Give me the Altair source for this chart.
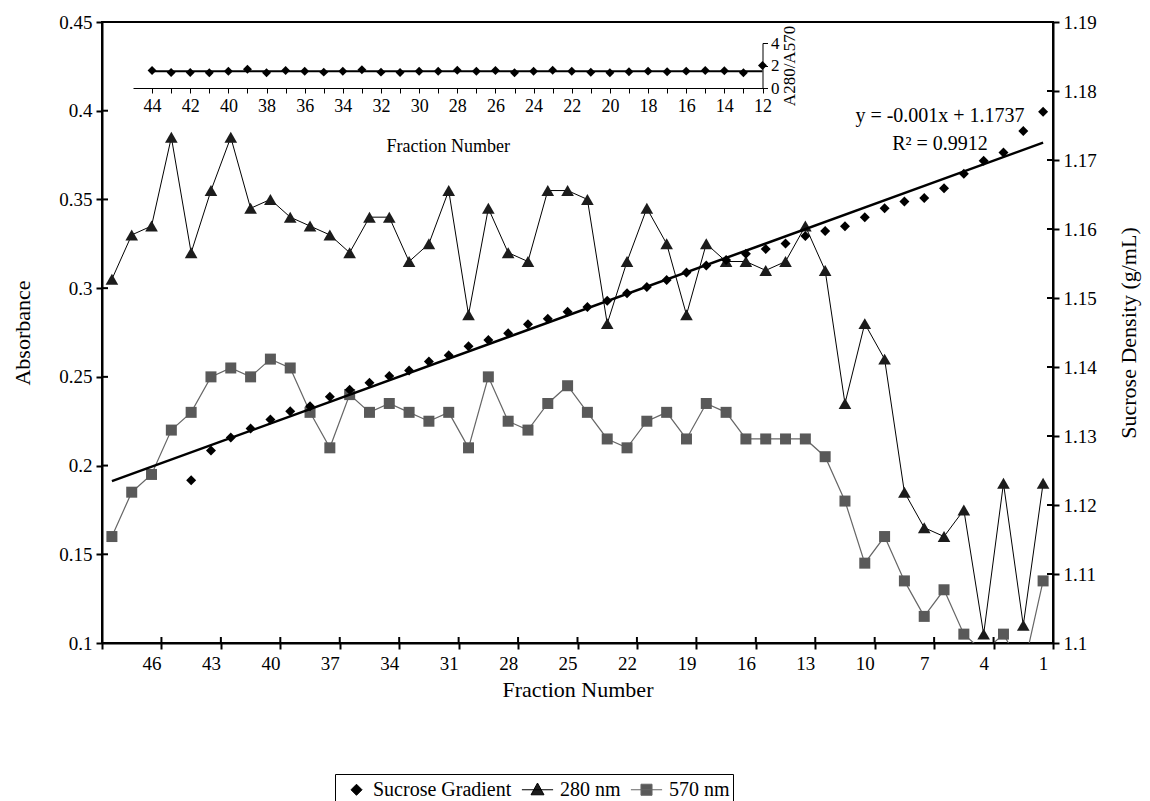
import altair as alt
import pandas as pd

FONT = "Liberation Serif"

# ---------------- data ----------------
fractions = list(range(48, 0, -1))
abs_280 = [0.305, 0.33, 0.335, 0.385, 0.32, 0.355, 0.385, 0.345, 0.35, 0.34,
           0.335, 0.33, 0.32, 0.34, 0.34, 0.315, 0.325, 0.355, 0.285, 0.345,
           0.32, 0.315, 0.355, 0.355, 0.35, 0.28, 0.315, 0.345, 0.325, 0.285,
           0.325, 0.315, 0.315, 0.31, 0.315, 0.335, 0.31, 0.235, 0.28, 0.26,
           0.185, 0.165, 0.16, 0.175, 0.105, 0.19, 0.11, 0.19]
abs_570 = [0.16, 0.185, 0.195, 0.22, 0.23, 0.25, 0.255, 0.25, 0.26, 0.255,
           0.23, 0.21, 0.24, 0.23, 0.235, 0.23, 0.225, 0.23, 0.21, 0.25,
           0.225, 0.22, 0.235, 0.245, 0.23, 0.215, 0.21, 0.225, 0.23, 0.215,
           0.235, 0.23, 0.215, 0.215, 0.215, 0.215, 0.205, 0.18, 0.145, 0.16,
           0.135, 0.115, 0.13, 0.105, 0.095, 0.105, 0.085, 0.135]

density_fractions = list(range(44, 0, -1))
density = [1.1236, 1.1279, 1.1298, 1.1311, 1.1324, 1.1336, 1.1343, 1.1357, 1.1367, 1.1377,
           1.1387, 1.1395, 1.1408, 1.1417, 1.1430, 1.1439, 1.1449, 1.1462, 1.1470, 1.1480,
           1.1487, 1.1496, 1.1507, 1.1516, 1.1526, 1.1537, 1.1547, 1.1555, 1.1564, 1.1571,
           1.1579, 1.1590, 1.1597, 1.1604, 1.1617, 1.1630, 1.1640, 1.1645, 1.1659, 1.1680,
           1.1699, 1.1711, 1.1742, 1.1770]

ratio_fractions = list(range(44, 11, -1))
ratio = [1.55, 1.38, 1.38, 1.35, 1.49, 1.67, 1.35, 1.55, 1.49, 1.41,
         1.49, 1.62, 1.41, 1.38, 1.49, 1.49, 1.58, 1.49, 1.55, 1.35,
         1.49, 1.58, 1.49, 1.40, 1.35, 1.44, 1.50, 1.44, 1.50, 1.56,
         1.53, 1.35, 2.00]

series_names = ["Sucrose Gradient", "280 nm", "570 nm"]
equation_lines = ["y = -0.001x + 1.1737", "R\u00b2 = 0.9912"]

left_ticks = [0.1, 0.15, 0.2, 0.25, 0.3, 0.35, 0.4, 0.45]
right_ticks = [1.1, 1.11, 1.12, 1.13, 1.14, 1.15, 1.16, 1.17, 1.18, 1.19]
main_x_ticks = [48.5 - 3 * i for i in range(17)]
inset_x_ticks = list(range(12, 45))
inset_y_ticks = [0, 2, 4]

abs_df = pd.DataFrame({"fraction": fractions, "a280": abs_280, "a570": abs_570})
dens_df = pd.DataFrame({"fraction": density_fractions, "density": density})
ratio_df = pd.DataFrame({"fraction": ratio_fractions, "ratio": ratio})
legend_df = pd.DataFrame({"series": series_names})
left_tick_df = pd.DataFrame({"tick": left_ticks})
right_tick_df = pd.DataFrame({"tick": right_ticks})
x_tick_df = pd.DataFrame({"tick": main_x_ticks})

# ---------------- geometry ----------------
W, H = 951, 621
CAT = W / 48.0
TICK_IN = 6

main_x_scale = alt.Scale(domain=[0.5, 48.5], reverse=True, nice=False, zero=False)
main_x_axis = alt.Axis(
    orient="bottom", values=main_x_ticks,
    labelExpr="datum.value > 48 ? '' : format(datum.value + 0.5, 'd')",
    labelOffset=-CAT / 2, labelFlush=False, labelOverlap=False,
    labelFontSize=19, labelPadding=5, tickSize=6, tickWidth=2, domainWidth=2,
    title="Fraction Number", titleFontSize=22, titlePadding=6, grid=False,
)
x_main = alt.X("fraction:Q", scale=main_x_scale, axis=main_x_axis)

abs_scale = alt.Scale(domain=[0.1, 0.45], nice=False, zero=False)
abs_axis = alt.Axis(
    orient="left", values=left_ticks, format=".2~f", labelFontSize=19,
    labelPadding=4, tickSize=6, tickWidth=2, domainWidth=2,
    title="Absorbance", titleFontSize=22, titlePadding=24, grid=False,
)

dens_scale = alt.Scale(domain=[1.1, 1.19], nice=False, zero=False)
dens_axis = alt.Axis(
    orient="right", values=right_ticks, format=".2~f", labelFontSize=19,
    labelPadding=4, tickSize=6, tickWidth=2, domainWidth=2,
    title="Sucrose Density (g/mL)", titleFontSize=22, titlePadding=22,
    titleAngle=270, titleBaseline="top", grid=False,
)

# ---------------- absorbance layers ----------------
line280 = alt.Chart(abs_df).mark_line(color="black", strokeWidth=1, clip=True).encode(
    x=x_main, y=alt.Y("a280:Q", scale=abs_scale, axis=abs_axis))
pts280 = alt.Chart(abs_df).mark_point(shape="triangle-up", filled=True, size=160,
                                       color="#1c1c1c", opacity=1, clip=True).encode(
    x=x_main, y=alt.Y("a280:Q", scale=abs_scale, axis=abs_axis))
line570 = alt.Chart(abs_df).mark_line(color="#666666", strokeWidth=1.2, clip=True).encode(
    x=x_main, y=alt.Y("a570:Q", scale=abs_scale, axis=abs_axis))
pts570 = alt.Chart(abs_df).mark_point(shape="square", filled=True, size=121,
                                       color="#595959", opacity=1, clip=True).encode(
    x=x_main, y=alt.Y("a570:Q", scale=abs_scale, axis=abs_axis))

# inward halves of the crossing tick marks (same axes so they merge)
left_ticks_in = alt.Chart(left_tick_df).mark_rule(color="black", strokeWidth=2).encode(
    y=alt.Y("tick:Q", scale=abs_scale, axis=abs_axis), x=alt.value(0), x2=alt.value(TICK_IN))
x_ticks_in = alt.Chart(x_tick_df).mark_rule(color="black", strokeWidth=2).encode(
    x=alt.X("tick:Q", scale=main_x_scale, axis=main_x_axis),
    y=alt.value(H - TICK_IN), y2=alt.value(H))

# legend-only layer (marks placed outside the clipped view)
diamond_path = "M0.5,-0.46L0.96,0L0.5,0.46L0.04,0Z"
tri_path = "M-1.3,0L1.3,0M0,-0.56L0.54,0.42L-0.54,0.42Z"
sq_path = "M-1.3,0L1.3,0M-0.46,-0.46L0.46,-0.46L0.46,0.46L-0.46,0.46Z"
leg = alt.Legend(
    title=None, orient="none", legendX=233, legendY=752, direction="horizontal",
    labelFont=FONT, labelFontSize=20, symbolSize=576, symbolStrokeWidth=1,
    padding=3, strokeColor="black", fillColor="white", columnPadding=7,
    labelOffset=10, symbolOpacity=1,
)
legend_layer = alt.Chart(legend_df).mark_point(filled=True, clip=True, opacity=1).encode(
    x=alt.value(-500), y=alt.value(-500),
    shape=alt.Shape("series:N", scale=alt.Scale(domain=series_names,
                                                range=[diamond_path, tri_path, sq_path]), legend=leg),
    fill=alt.Fill("series:N", scale=alt.Scale(domain=series_names,
                                              range=["black", "#1c1c1c", "#595959"]), legend=leg),
    stroke=alt.Stroke("series:N", scale=alt.Scale(domain=series_names,
                                                  range=["black", "black", "#666666"]), legend=leg),
)

abs_group = alt.layer(line280, line570, pts570, pts280, left_ticks_in, x_ticks_in, legend_layer)

# ---------------- density layers ----------------
trend = alt.Chart(dens_df).transform_regression(
    "fraction", "density", extent=[1, 48]).mark_line(color="black", strokeWidth=2.5).encode(
    x=x_main, y=alt.Y("density:Q", scale=dens_scale, axis=dens_axis))
pts_d = alt.Chart(dens_df).mark_point(shape="diamond", filled=True, size=100,
                                      color="black", opacity=1).encode(
    x=x_main, y=alt.Y("density:Q", scale=dens_scale, axis=dens_axis))
right_ticks_in = alt.Chart(right_tick_df).mark_rule(color="black", strokeWidth=2).encode(
    y=alt.Y("tick:Q", scale=dens_scale, axis=dens_axis),
    x=alt.value(W - TICK_IN), x2=alt.value(W))
eq1 = alt.Chart(alt.Data(values=[{}])).mark_text(
    font=FONT, fontSize=20, align="center", baseline="middle", color="black").encode(
    x=alt.value(838), y=alt.value(94), text=alt.value(equation_lines[0]))
eq2 = alt.Chart(alt.Data(values=[{}])).mark_text(
    font=FONT, fontSize=20, align="center", baseline="middle", color="black").encode(
    x=alt.value(838), y=alt.value(122), text=alt.value(equation_lines[1]))

dens_group = alt.layer(trend, pts_d, right_ticks_in, eq1, eq2)

main = alt.layer(abs_group, dens_group).resolve_scale(y="independent")

# ---------------- inset ----------------
x_inset = alt.X(
    "fraction:Q",
    scale=alt.Scale(domain=[45, 12], range=[31, 660.5], nice=False, zero=False),
    axis=alt.Axis(
        orient="bottom", offset=-(H - 66), values=inset_x_ticks,
        labelExpr="datum.value % 2 == 0 ? datum.label : ''",
        labelFlush=False, labelOverlap=False, labelFontSize=18, labelPadding=4,
        tickSize=5, tickWidth=1, domainWidth=1,
        title="Fraction Number", titleFontSize=18, titlePadding=22, grid=False,
    ),
)
inset_scale = alt.Scale(domain=[0, 4], range=[66, 21], nice=False, zero=False)
inset_axis = alt.Axis(
    orient="right", offset=-(W - 660.5), values=inset_y_ticks, labelFontSize=17,
    labelPadding=3, tickSize=5, tickWidth=1, domainWidth=1,
    title="A280/A570", titleFontSize=17, titlePadding=2, titleAngle=270,
    titleBaseline="top", grid=False,
)
inset_line = alt.Chart(ratio_df).transform_joinaggregate(
    mean_ratio="mean(ratio)").mark_line(color="black", strokeWidth=2).encode(
    x=x_inset, y=alt.Y("mean_ratio:Q", scale=inset_scale, axis=inset_axis))
inset_pts = alt.Chart(ratio_df).mark_point(shape="diamond", filled=True, size=80,
                                           color="black", opacity=1).encode(
    x=x_inset, y=alt.Y("ratio:Q", scale=inset_scale, axis=inset_axis))
inset = alt.layer(inset_line, inset_pts)

chart = alt.layer(main, inset).resolve_scale(x="independent", y="independent").properties(
    width=W, height=H,
    padding={"left": 102, "top": 22, "right": 97, "bottom": 158},
    autosize=alt.AutoSizeParams(type="none"),
    background="white",
).configure_view(stroke="black", strokeWidth=2).configure_axis(
    labelFont=FONT, titleFont=FONT, labelColor="black", titleColor="black",
    titleFontWeight="normal", domainColor="black", tickColor="black",
).configure_legend(labelColor="black")

chart.save("out.html", embed_options={"renderer": "svg", "actions": False})
